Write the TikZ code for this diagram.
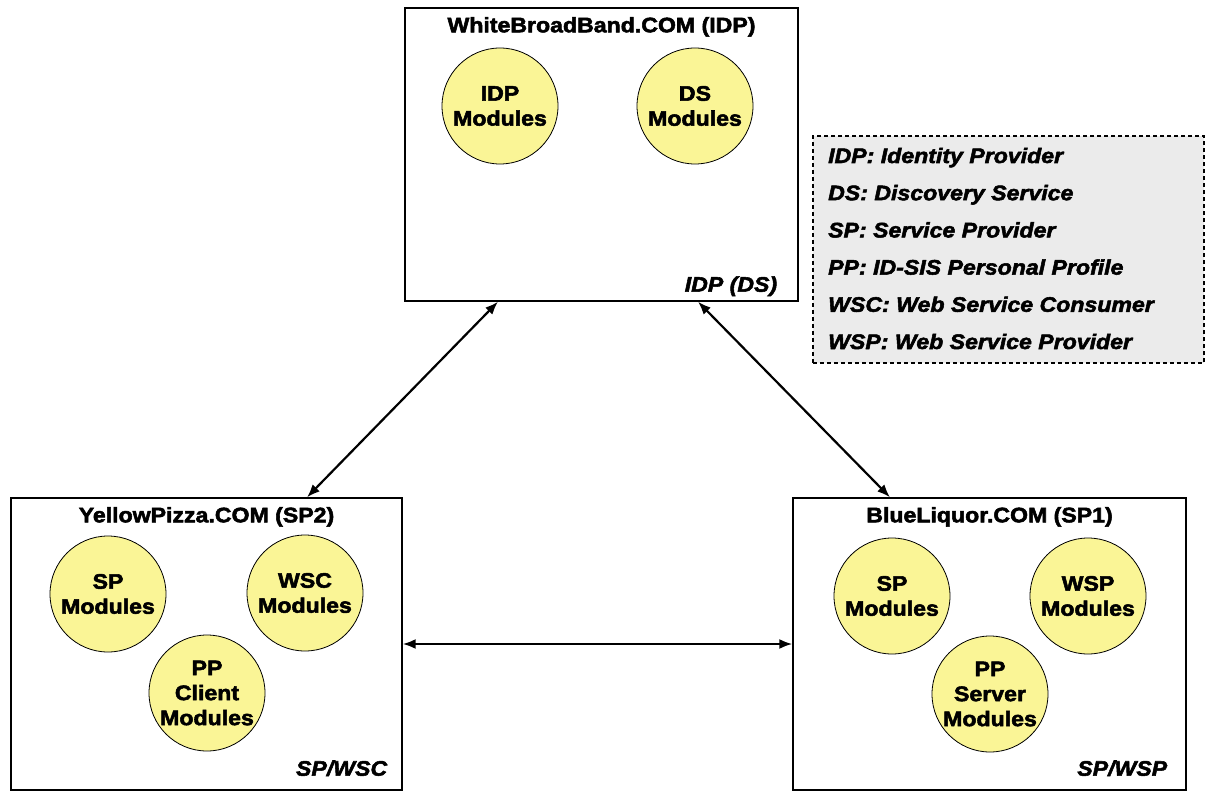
\documentclass[tikz,border=0pt]{standalone}
\usepackage{fontspec}
\setmainfont{Liberation Sans}[FakeStretch=1.1,
  BoldFeatures={FakeBold=2.5}, BoldItalicFeatures={FakeBold=2.5}]
\usetikzlibrary{arrows.meta}
\definecolor{modfill}{RGB}{250,245,150}
\definecolor{legfill}{RGB}{235,235,235}

\begin{document}
\begin{tikzpicture}[x=1pt, y=-1pt,
  site/.style={draw, line width=1.4pt, inner sep=0pt},
  module/.style={circle, draw, line width=0.8pt, fill=modfill, minimum size=116pt, inner sep=0pt,
    align=center, font=\bfseries\fontsize{21}{25}\selectfont},
  sitename/.style={anchor=base, font=\bfseries\fontsize{21}{25}\selectfont},
  role/.style={anchor=base east, font=\bfseries\itshape\fontsize{21}{25}\selectfont},
  legitem/.style={anchor=base west, inner sep=0pt, font=\bfseries\itshape\fontsize{21}{24}\selectfont},
  link/.style={line width=2.2pt, {Latex[length=13pt,width=10pt]}-{Latex[length=13pt,width=10pt]}}]
\useasboundingbox (0,0) rectangle (1206,791);
% Top site: identity provider with discovery service
\node[site, minimum width=393pt, minimum height=293pt] (idp) at (601.5,154.5) {};
\node[sitename] (idptitle) at ([yshift=-25pt]idp.north) {WhiteBroadBand.COM (IDP)};
\node[module] (idpmod) at (500,106) {IDP\\Modules};
\node[module] (dsmod) at (695,106) {DS\\Modules};
\node[role] (idprole) at ([xshift=-18pt, yshift=10pt]idp.south east) {IDP (DS)};
% Bottom left site: service provider 2
\node[site, minimum width=391pt, minimum height=292pt] (yp) at (206.5,644) {};
\node[sitename] (yptitle) at ([yshift=-25pt]yp.north) {YellowPizza.COM (SP2)};
\node[module] (ypsp) at (108,594) {SP\\Modules};
\node[module] (ypwsc) at (305,593) {WSC\\Modules};
\node[module] (yppp) at (207,693) {PP\\Client\\Modules};
\node[role] (yprole) at ([xshift=-12pt, yshift=15pt]yp.south east) {SP/WSC};
% Bottom right site: service provider 1
\node[site, minimum width=393pt, minimum height=292pt] (bl) at (989.5,644) {};
\node[sitename] (bltitle) at ([yshift=-25pt]bl.north) {BlueLiquor.COM (SP1)};
\node[module] (blsp) at (892,596) {SP\\Modules};
\node[module] (blwsp) at (1088,596) {WSP\\Modules};
\node[module] (blpp) at (990,694) {PP\\Server\\Modules};
\node[role] (blrole) at ([xshift=-16pt, yshift=15pt]bl.south east) {SP/WSP};
% Legend
\node[draw, line width=1.2pt, dash pattern=on 4pt off 3pt, fill=legfill,
  minimum width=391pt, minimum height=227pt] (legend) at (1008.5,249.5) {};
\foreach \txt [count=\i from 0] in {IDP: Identity Provider, DS: Discovery Service,
    SP: Service Provider, PP: ID-SIS Personal Profile,
    WSC: Web Service Consumer, WSP: Web Service Provider}
  \node[legitem] (leg\i) at (828,{163+37.2*\i}) {\txt};
% Links between the sites
\draw[link] ([xshift=100.5pt]yp.north) -- ([xshift=-103.5pt]idp.south);
\draw[link] ([xshift=96.5pt]idp.south) -- ([xshift=-99.5pt]bl.north);
\draw[link] (yp.east) -- (bl.west);
\end{tikzpicture}
\end{document}
